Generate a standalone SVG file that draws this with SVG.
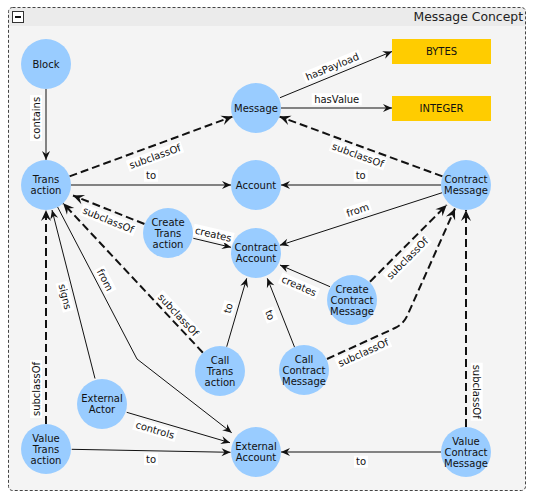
<svg xmlns="http://www.w3.org/2000/svg" width="534" height="495" viewBox="0 0 534 495">
<style>
text{font-family:"DejaVu Sans","Liberation Sans",sans-serif;font-size:10px;fill:#111;text-anchor:middle}
.node circle{fill:#99CCFF;stroke:none}
.node rect{fill:#FFCC00;stroke:none}
.e{fill:none;stroke:#111;stroke-width:1}
.s{stroke-width:1}
.d{stroke-width:2;stroke-dasharray:8,4}
.lbl rect{fill:#fff;stroke:none}
.title{font-size:12.4px;text-anchor:end;fill:#222}
</style>
<defs>
<marker id="a" viewBox="-10 -5 11 10" refX="0" refY="0" markerWidth="11" markerHeight="10" markerUnits="userSpaceOnUse" orient="auto">
<path d="M0,0 L-9,-4 L-6,0 L-9,4 Z" fill="#111"/>
</marker>
<marker id="ad" viewBox="-12 -6 13 12" refX="0" refY="0" markerWidth="13" markerHeight="12" markerUnits="userSpaceOnUse" orient="auto">
<path d="M0,0 L-11,-5 L-7,0 L-11,5 Z" fill="#111"/>
</marker>
</defs>
<g id="frame">
<rect x="8.5" y="7.5" width="517" height="483" rx="4" fill="#F4F4F4"/>
<path d="M8.5,26 V11.5 a4,4 0 0 1 4,-4 H521.5 a4,4 0 0 1 4,4 V26 Z" fill="#EBEBEB"/>
<rect x="8.5" y="7.5" width="517" height="483" rx="4" fill="none" stroke="#444" stroke-dasharray="3,2"/>
<rect x="12.5" y="11.5" width="11" height="11" fill="#fff" stroke="#333"/>
<line x1="15" y1="17" x2="21" y2="17" stroke="#111" stroke-width="2"/>
<text class="title" x="523" y="20.7">Message Concept</text>
</g>
<g id="connectors">
<path class="e s" d="M46,89 L46,160" marker-end="url(#a)"/>
<path class="e d" d="M69.5,176.4 L232.5,116.6" marker-end="url(#ad)"/>
<path class="e s" d="M71,185 L231,185" marker-end="url(#a)"/>
<path class="e s" d="M280,97.7 L392,51.5" marker-end="url(#a)"/>
<path class="e s" d="M281,108 L392,108" marker-end="url(#a)"/>
<path class="e d" d="M442.5,176.4 L279.5,116.6" marker-end="url(#ad)"/>
<path class="e s" d="M441,185 L281,185" marker-end="url(#a)"/>
<path class="e s" d="M442.2,192.7 L279.8,245.3" marker-end="url(#a)"/>
<path class="e d" d="M144.5,224 L73,195.5" marker-end="url(#ad)"/>
<path class="e s" d="M193.3,238.3 L231,247.3" marker-end="url(#a)"/>
<path class="e d" d="M202.9,352.7 L63.1,203.3" marker-end="url(#ad)"/>
<path class="e s" d="M226.7,346.7 L246.7,278.3" marker-end="url(#a)"/>
<path class="e s" d="M295,348.3 L267.3,278.3" marker-end="url(#a)"/>
<path class="e s" d="M330,286.7 L280,265" marker-end="url(#a)"/>
<path class="e d" d="M370,281.7 L446.7,205" marker-end="url(#ad)"/>
<path class="e d" d="M327,359 L395,328 Q404,324 408,314 L455,208.5" marker-end="url(#ad)"/>
<path class="e d" d="M466,427 L466,210" marker-end="url(#ad)"/>
<path class="e s" d="M441,452 L281,452" marker-end="url(#a)"/>
<path class="e d" d="M46,424 L46,210" marker-end="url(#ad)"/>
<path class="e s" d="M71.7,449.3 L230.5,452.3" marker-end="url(#a)"/>
<path class="e s" d="M95,378.5 L52,210" marker-end="url(#a)"/>
<path class="e s" d="M126.7,412.3 L230,442.7" marker-end="url(#a)"/>
<path class="e s" d="M57.6,207 L137,359 L231.7,432.7" marker-end="url(#a)"/>
<g class="lbl">
<g transform="translate(36,118) rotate(-90)"><rect x="-23" y="-6" width="46" height="12"/><text y="3.5">contains</text></g>
<g transform="translate(155,156.5) rotate(-20)"><rect x="-29" y="-6" width="58" height="12"/><text y="3.5">subclassOf</text></g>
<g transform="translate(151,175.7)"><rect x="-7" y="-6" width="14" height="12"/><text y="3.5">to</text></g>
<g transform="translate(332.3,66.7) rotate(-22.4)"><rect x="-30.5" y="-6" width="61" height="12"/><text y="3.5">hasPayload</text></g>
<g transform="translate(336.7,99.3)"><rect x="-25" y="-6" width="50" height="12"/><text y="3.5">hasValue</text></g>
<g transform="translate(358,155) rotate(20)"><rect x="-29" y="-6" width="58" height="12"/><text y="3.5">subclassOf</text></g>
<g transform="translate(360.7,175.7)"><rect x="-7" y="-6" width="14" height="12"/><text y="3.5">to</text></g>
<g transform="translate(357.7,210) rotate(-18)"><rect x="-13.5" y="-6" width="27" height="12"/><text y="3.5">from</text></g>
<g transform="translate(108.3,220) rotate(22)"><rect x="-29" y="-6" width="58" height="12"/><text y="3.5">subclassOf</text></g>
<g transform="translate(213.3,234.3) rotate(13)"><rect x="-20.5" y="-6" width="41" height="12"/><text y="3.5">creates</text></g>
<g transform="translate(178.3,315) rotate(47)"><rect x="-29" y="-6" width="58" height="12"/><text y="3.5">subclassOf</text></g>
<g transform="translate(228.3,308.3) rotate(-73.7)"><rect x="-7" y="-6" width="14" height="12"/><text y="3.5">to</text></g>
<g transform="translate(270,315) rotate(68.4)"><rect x="-7" y="-6" width="14" height="12"/><text y="3.5">to</text></g>
<g transform="translate(299,286) rotate(23.5)"><rect x="-20.5" y="-6" width="41" height="12"/><text y="3.5">creates</text></g>
<g transform="translate(407.3,258.3) rotate(-45)"><rect x="-29" y="-6" width="58" height="12"/><text y="3.5">subclassOf</text></g>
<g transform="translate(363.3,352.7) rotate(-24)"><rect x="-29" y="-6" width="58" height="12"/><text y="3.5">subclassOf</text></g>
<g transform="translate(476.7,391.7) rotate(90)"><rect x="-29" y="-6" width="58" height="12"/><text y="3.5">subclassOf</text></g>
<g transform="translate(361,461.7)"><rect x="-7" y="-6" width="14" height="12"/><text y="3.5">to</text></g>
<g transform="translate(36,389) rotate(-90)"><rect x="-29" y="-6" width="58" height="12"/><text y="3.5">subclassOf</text></g>
<g transform="translate(151,459.3)"><rect x="-7" y="-6" width="14" height="12"/><text y="3.5">to</text></g>
<g transform="translate(65,296.7) rotate(75.6)"><rect x="-15" y="-6" width="30" height="12"/><text y="3.5">signs</text></g>
<g transform="translate(155,430) rotate(16.4)"><rect x="-22" y="-6" width="44" height="12"/><text y="3.5">controls</text></g>
<g transform="translate(105,280) rotate(62.4)"><rect x="-13.5" y="-6" width="27" height="12"/><text y="3.5">from</text></g>
</g>
</g>
<g id="Block" class="node"><circle cx="46" cy="64" r="25"/><text x="46" y="67.7">Block</text></g>
<g id="Message" class="node"><circle cx="256" cy="108" r="25"/><text x="256" y="111.7">Message</text></g>
<g id="BYTES" class="node"><rect x="392" y="39" width="99" height="25"/><text x="441.5" y="55.2">BYTES</text></g>
<g id="INTEGER" class="node"><rect x="392" y="96" width="99" height="25"/><text x="441.5" y="112.2">INTEGER</text></g>
<g id="Transaction" class="node"><circle cx="46" cy="185" r="25"/><text x="46" y="183.2">Trans</text><text x="46" y="194.2">action</text></g>
<g id="Account" class="node"><circle cx="256" cy="185" r="25"/><text x="256" y="188.7">Account</text></g>
<g id="ContractMessage" class="node"><circle cx="466" cy="185" r="25"/><text x="466" y="183.2">Contract</text><text x="466" y="194.2">Message</text></g>
<g id="CreateTransaction" class="node"><circle cx="168" cy="233" r="25"/><text x="168" y="225.7">Create</text><text x="168" y="236.7">Trans</text><text x="168" y="247.7">action</text></g>
<g id="ContractAccount" class="node"><circle cx="256" cy="253" r="25"/><text x="256" y="251.2">Contract</text><text x="256" y="262.2">Account</text></g>
<g id="CreateContractMessage" class="node"><circle cx="352" cy="300" r="25"/><text x="352" y="292.7">Create</text><text x="352" y="303.7">Contract</text><text x="352" y="314.7">Message</text></g>
<g id="CallTransaction" class="node"><circle cx="220" cy="371" r="25"/><text x="220" y="363.7">Call</text><text x="220" y="374.7">Trans</text><text x="220" y="385.7">action</text></g>
<g id="CallContractMessage" class="node"><circle cx="304" cy="370" r="25"/><text x="304" y="362.7">Call</text><text x="304" y="373.7">Contract</text><text x="304" y="384.7">Message</text></g>
<g id="ExternalActor" class="node"><circle cx="102" cy="404" r="25"/><text x="102" y="402.2">External</text><text x="102" y="413.2">Actor</text></g>
<g id="ValueTransaction" class="node"><circle cx="46" cy="449" r="25"/><text x="46" y="441.7">Value</text><text x="46" y="452.7">Trans</text><text x="46" y="463.7">action</text></g>
<g id="ExternalAccount" class="node"><circle cx="256" cy="452" r="25"/><text x="256" y="450.2">External</text><text x="256" y="461.2">Account</text></g>
<g id="ValueContractMessage" class="node"><circle cx="466" cy="452" r="25"/><text x="466" y="444.7">Value</text><text x="466" y="455.7">Contract</text><text x="466" y="466.7">Message</text></g>
</svg>
